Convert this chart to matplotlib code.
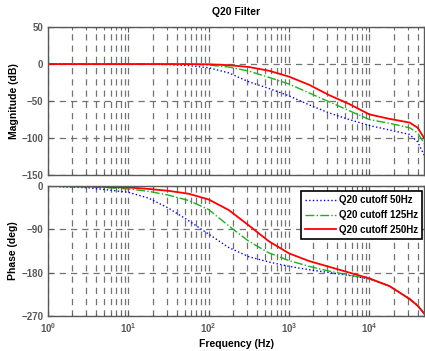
import matplotlib.pyplot as plt
import numpy as np
from matplotlib.ticker import LogLocator, NullFormatter

plt.rcParams['font.family'] = ['Liberation Sans', 'DejaVu Sans']

# frequency points (Hz)
freq = [1, 3.16, 10, 17.8, 31.6, 56.2, 100, 178, 316, 562, 1000, 1778,
        3162, 5623, 10000, 17783, 31623, 39811, 48000]

# magnitude (dB)
mag_50 = [0, 0, 0, -0.2, -0.7, -2, -5, -12, -24, -33, -43, -55,
          -66, -75, -83, -89, -95, -105, -123]
mag_125 = [0, 0, 0, 0, 0, -0.3, -1.4, -4, -9.5, -18, -27, -39,
           -51, -63, -75, -80, -86, -93, -107]
mag_250 = [0, 0, 0, 0, 0, 0, -0.3, -1.5, -4, -9, -17, -28,
           -42, -54, -68, -74, -79, -86, -100]

# phase (deg)
ph_50 = [-0.5, -3.5, -13, -25, -46, -72, -100, -128, -147, -158, -167, -174,
         -180, -186, -193, -208, -234, -248, -264]
ph_125 = [-0.2, -1.5, -6, -11, -19, -30, -49, -83, -115, -139, -155, -167,
          -177, -185, -193, -208, -234, -248, -264]
ph_250 = [0, -1, -3, -6, -10, -16, -28, -50, -82, -115, -140, -156,
          -168, -180, -192, -208, -235, -249, -265]

labels = ['Q20 cutoff 50Hz', 'Q20 cutoff 125Hz', 'Q20 cutoff 250Hz']
styles = [(':', (0, 0, 1), 1.0), ('-.', (0.1, 0.7, 0.1), 1.0), ('-', (1, 0, 0), 1.3)]

fig = plt.figure(figsize=(4.25, 3.51), dpi=100)
ax1 = fig.add_axes([0.113, 0.501, 0.885, 0.422])
ax2 = fig.add_axes([0.113, 0.100, 0.885, 0.370])

gridcol = (0.45, 0.45, 0.45)
axcol = (0.35, 0.35, 0.35)

def style_axes(ax, yticks):
    ax.set_xscale('log')
    ax.set_xlim(1, 48000)
    ax.set_yticks(yticks)
    ax.xaxis.set_major_locator(LogLocator(base=10, numticks=10))
    ax.xaxis.set_minor_locator(LogLocator(base=10, subs=np.arange(2, 10), numticks=10))
    ax.xaxis.set_minor_formatter(NullFormatter())
    ax.grid(True, which='major', axis='y', color=gridcol, linestyle=(0, (5, 4)), linewidth=0.9)
    ax.grid(True, which='both', axis='x', color=gridcol, linestyle=(0, (5, 4)), linewidth=0.9)
    ax.tick_params(which='both', direction='in', colors=axcol, labelsize=7, top=True, right=True)
    for lab in ax.get_yticklabels() + ax.get_xticklabels():
        lab.set_fontweight('bold')
    for s in ax.spines.values():
        s.set_color(axcol)
        s.set_linewidth(1.0)

for y, lab, (ls, c, lw) in zip([mag_50, mag_125, mag_250], labels, styles):
    ax1.plot(freq, y, linestyle=ls, color=c, linewidth=lw, label=lab)
ax1.set_ylim(-150, 50)
style_axes(ax1, [50, 0, -50, -100, -150])
ax1.set_xticklabels([])
ax1.set_ylabel('Magnitude (dB)', fontsize=7.5, fontweight='bold', labelpad=2)
ax1.set_title('Q20 Filter', fontsize=7.5, fontweight='bold', pad=9)

for y, lab, (ls, c, lw) in zip([ph_50, ph_125, ph_250], labels, styles):
    ax2.plot(freq, y, linestyle=ls, color=c, linewidth=lw, label=lab)
ax2.set_ylim(-270, 0)
style_axes(ax2, [0, -90, -180, -270])
ax2.set_ylabel('Phase (deg)', fontsize=7.5, fontweight='bold', labelpad=2)
ax2.set_xlabel('Frequency (Hz)', fontsize=7.5, fontweight='bold', labelpad=3)

leg = ax2.legend(loc='upper right', bbox_to_anchor=(1.0, 0.975),
                 prop={'weight': 'bold', 'size': 7}, fancybox=False,
                 edgecolor='black', framealpha=1, borderpad=0.4,
                 labelspacing=0.5, handlelength=3.2, handletextpad=0.3,
                 borderaxespad=0.2)
leg.get_frame().set_linewidth(1.2)

fig.savefig('out.png', dpi=100, facecolor='white')
